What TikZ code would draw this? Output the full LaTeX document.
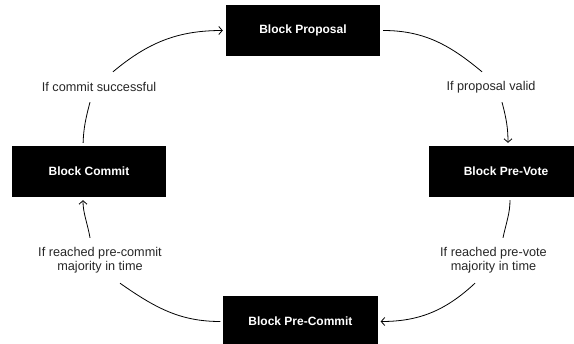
\documentclass[tikz,border=0pt]{standalone}
\usepackage{fontspec}
\setmainfont{Liberation Sans}
\usetikzlibrary{arrows.meta}

\begin{document}
\begin{tikzpicture}[
		block node/.style={rectangle, fill=black, text=white, font=\fontsize{12bp}{14bp}\selectfont\bfseries, minimum width=154bp, minimum height=51bp, inner sep=0pt},
		cond node/.style={rectangle, text=black!85, font=\fontsize{12.7bp}{14bp}\selectfont, align=center, inner sep=0pt, minimum height=30bp},
		link/.style={line width=0.8bp},
		from box/.style={link, shorten <=3bp},
		to box/.style={link, ->, shorten >=3bp},
		>={Straight Barb[length=3.5bp,width=8bp]},
		node distance=141bp
	]
		\useasboundingbox (-303bp,30.5bp) rectangle (271bp,-313.5bp);

		\node[block node] (prop) {Block Proposal};
		\node[block node,below of=prop,xshift=-214bp] (commit) {Block Commit};
		\node[block node,below of=prop,xshift=203bp] (vote) {Block Pre-Vote};
		\node[block node,node distance=291bp,below of=prop,xshift=-2.5bp] (pcommit) {Block Pre-Commit};

		\node[cond node,node distance=84.5bp,above of=commit,xshift=10bp] (l1) {If commit successful};
		\node[cond node,node distance=84.5bp,above of=vote,xshift=-15bp] (l2) {If proposal valid};
		\node[cond node,node distance=89bp,below of=vote,xshift=-12.5bp,minimum height=45bp] (l3) {If reached pre-vote\\majority in time};
		\node[cond node,node distance=89bp,below of=commit,xshift=11bp,minimum height=45bp] (l4) {If reached pre-commit\\majority in time};

		\draw[from box] ([xshift=-6bp]commit.north) to[out=88,in=-105] ([xshift=-9bp]l1.south);
		\draw[to box] ([xshift=14bp]l1.north) to[out=40,in=180] (prop.west);

		\draw[from box] (prop.east) to[out=0,in=140] ([xshift=-9bp]l2.north);
		\draw[to box] ([xshift=11bp]l2.south) to[out=-75,in=90] ([xshift=2bp]vote.north);

		\draw[from box] ([xshift=4bp]vote.south) to[out=-90,in=78] ([xshift=9.5bp]l3.north);
		\draw[to box] ([xshift=-18.5bp]l3.south) to[out=-137,in=0] (pcommit.east);

		\draw[from box] (pcommit.west) to[out=180,in=-35] ([xshift=20bp]l4.south);
		\draw[to box] ([xshift=-10bp]l4.north) to[out=100,in=-90] ([xshift=-6bp]commit.south);

	\end{tikzpicture}
\end{document}
